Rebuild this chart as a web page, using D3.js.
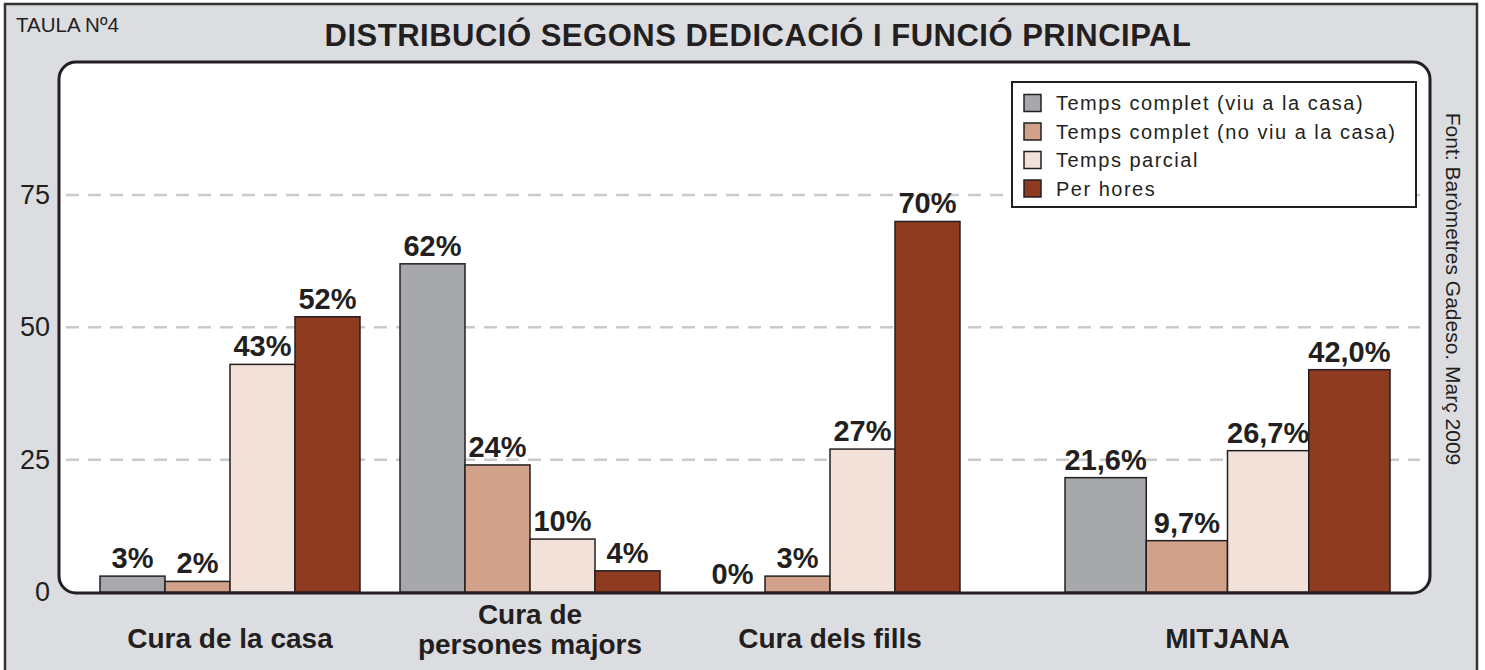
<!DOCTYPE html>
<html>
<head>
    <meta charset="utf-8">
    <title>Taula 4 - Distribució segons dedicació</title>
</head>
<body>
<style type="text/css">
    body {
        margin: 0;
        background: #fff;
    }

    #renderer {
        width: 1485px;
        height: 670px;
        display: block;
        font-family: "Liberation Sans", Arial, sans-serif;
    }
</style>
<script type="text/javascript" src="https://cdnjs.cloudflare.com/ajax/libs/d3/7.8.5/d3.min.js"></script>
<svg id='renderer'></svg>

<script type="text/javascript">
    // data
    var categories = ['Cura de la casa', 'Cura de persones majors', 'Cura dels fills', 'MITJANA'];
    var categoryLines = [['Cura de la casa'], ['Cura de', 'persones majors'], ['Cura dels fills'], ['MITJANA']];
    var seriesNames = ['Temps complet (viu a la casa)', 'Temps complet (no viu a la casa)', 'Temps parcial', 'Per hores'];
    var viuCasa = [3, 62, 0, 21.6];
    var noViuCasa = [2, 24, 3, 9.7];
    var parcial = [43, 10, 27, 26.7];
    var perHores = [52, 4, 70, 42.0];
    var yTicks = [0, 25, 50, 75];

    var seriesValues = [viuCasa, noViuCasa, parcial, perHores];
    var colors = ['#a7a8ab', '#d1a18a', '#f2e1d9', '#8e3b21'];
    var ink = '#231f20';

    var root = d3.select('#renderer');

    // the average group is a bit wider and sits further right
    var slotStart = [0, 1, 2, 3.2];
    var slotSpan = [1, 1, 1, 1.25];

    var xUnit = d3.scaleLinear().domain([0, 1]).range([80, 380]);
    var y = d3.scaleLinear().domain([0, 75]).range([592, 195]);

    var locale = d3.formatLocale({decimal: ',', thousands: '.', grouping: [3], currency: ['', '€']});
    var fmtInt = locale.format('d');
    var fmtDec = locale.format('.1f');

    // outer grey frame
    root.append('rect')
        .attr('x', 5)
        .attr('y', 4)
        .attr('width', 1472)
        .attr('height', 700)
        .attr('fill', '#dcdde0')
        .attr('stroke', '#333')
        .attr('stroke-width', 2.5);

    root.append('text')
        .text('TAULA Nº4')
        .attr('x', 16)
        .attr('y', 32)
        .attr('font-size', 20.5)
        .attr('fill', ink);

    root.append('text')
        .text('DISTRIBUCIÓ SEGONS DEDICACIÓ I FUNCIÓ PRINCIPAL')
        .attr('x', 758)
        .attr('y', 46)
        .attr('font-size', 31)
        .attr('font-weight', 'bold')
        .attr('letter-spacing', 0.5)
        .attr('text-anchor', 'middle')
        .attr('fill', ink);

    // white plot panel with round corners
    root.append('rect')
        .attr('x', 59)
        .attr('y', 62)
        .attr('width', 1371)
        .attr('height', 531)
        .attr('rx', 17)
        .attr('fill', '#fff')
        .attr('stroke', ink)
        .attr('stroke-width', 3);

    // dashed grid
    root.selectAll('.grid')
        .data(yTicks.filter(function (d) { return d > 0; }))
        .enter().append('line')
        .attr('class', 'grid')
        .attr('x1', 66)
        .attr('x2', 1420)
        .attr('y1', function (d) { return y(d); })
        .attr('y2', function (d) { return y(d); })
        .attr('stroke', '#c9cacc')
        .attr('stroke-width', 2.5)
        .attr('stroke-dasharray', '13,9');

    // y tick labels
    var yAxis = root.append('g')
        .attr('transform', 'translate(52,0)')
        .call(d3.axisLeft(y).tickValues(yTicks).tickSize(0).tickPadding(2));
    yAxis.select('.domain').remove();
    yAxis.selectAll('text')
        .attr('font-size', 27)
        .attr('font-family', '"Liberation Sans", Arial, sans-serif')
        .attr('fill', ink);

    // bars
    categories.forEach(function (cat, i) {
        var slotX = xUnit(slotStart[i]);
        var slotW = xUnit(slotStart[i] + slotSpan[i]) - slotX;
        var x1 = d3.scaleBand()
            .domain(seriesNames)
            .range([slotX + slotW / 15, slotX + slotW * 14 / 15]);
        var fmt = cat === 'MITJANA' ? fmtDec : fmtInt;

        var g = root.append('g');
        seriesNames.forEach(function (s, k) {
            var v = seriesValues[k][i];
            if (v > 0) {
                g.append('rect')
                    .attr('x', x1(s))
                    .attr('y', y(v))
                    .attr('width', x1.bandwidth())
                    .attr('height', y(0) - y(v))
                    .attr('fill', colors[k])
                    .attr('stroke', ink)
                    .attr('stroke-width', 1.5);
            }
            g.append('text')
                .text(fmt(v) + '%')
                .attr('x', x1(s) + x1.bandwidth() / 2)
                .attr('y', y(v) - 8)
                .attr('font-size', 29)
                .attr('font-weight', 'bold')
                .attr('text-anchor', 'middle')
                .attr('fill', ink);
        });

        // category label under the group
        var lines = categoryLines[i];
        var label = root.append('text')
            .attr('font-size', 28)
            .attr('font-weight', 'bold')
            .attr('text-anchor', 'middle')
            .attr('fill', ink);
        lines.forEach(function (l, j) {
            label.append('tspan')
                .text(l)
                .attr('x', slotX + slotW / 2)
                .attr('y', lines.length === 1 ? 648 : 624 + j * 30);
        });
    });

    // legend
    var legend = root.append('g').attr('transform', 'translate(1012,82)');
    legend.append('rect')
        .attr('width', 404)
        .attr('height', 125)
        .attr('fill', '#fff')
        .attr('stroke', ink)
        .attr('stroke-width', 2);
    seriesNames.forEach(function (s, k) {
        var cy = 21 + k * 28.5;
        legend.append('rect')
            .attr('x', 12)
            .attr('y', cy - 8.5)
            .attr('width', 17)
            .attr('height', 17)
            .attr('fill', colors[k])
            .attr('stroke', ink)
            .attr('stroke-width', 1.5);
        legend.append('text')
            .text(s)
            .attr('x', 44)
            .attr('y', cy + 7)
            .attr('font-size', 20)
            .attr('letter-spacing', 1.5)
            .attr('fill', ink);
    });

    // source, rotated on the right side
    root.append('text')
        .text('Font: Baròmetres Gadeso. Març 2009')
        .attr('transform', 'translate(1446,289) rotate(90)')
        .attr('font-size', 21)
        .attr('text-anchor', 'middle')
        .attr('fill', ink);
</script>
</body>
</html>
